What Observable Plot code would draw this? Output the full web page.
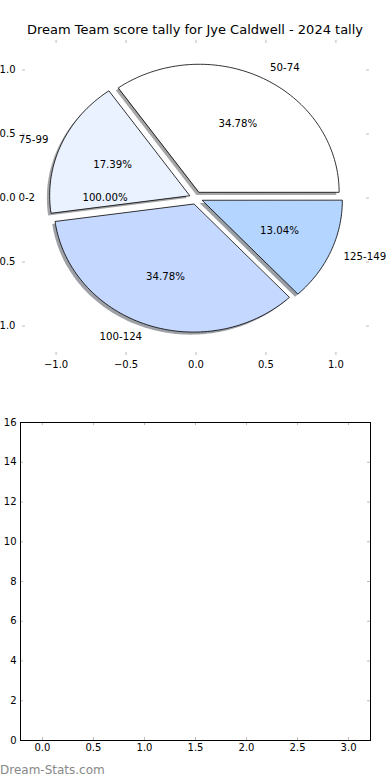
<!DOCTYPE html>
<html><head><meta charset="utf-8">
<script src="https://cdn.jsdelivr.net/npm/d3@7"></script>
<script src="https://cdn.jsdelivr.net/npm/@observablehq/plot@0.6"></script>
<style>
body{margin:0;background:#fff;font-family:"DejaVu Sans",sans-serif;}
#wrap{position:relative;width:390px;height:780px;overflow:hidden;background:#fff}
#title{position:absolute;top:22px;left:0;width:390px;text-align:center;font-size:13px;line-height:16px;color:#000}
#pie{position:absolute;top:0;left:0}
#bar{position:absolute;top:385px;left:0}
#footer{position:absolute;left:0;top:762px;font-size:12px;line-height:16px;color:#888}
</style></head><body>
<div id="wrap"><div id="pie"></div><div id="bar"></div>
<div id="title">Dream Team score tally for Jye Caldwell - 2024 tally</div>
<div id="footer">Dream-Stats.com</div></div>
<script>
// ---- data ----
const labels = ["50-74", "75-99", "0-2", "100-124", "125-149"];
const counts = [8, 4, 0, 8, 3];
const pctLabels = ["34.78%", "17.39%", "100.00%", "34.78%", "13.04%"];
const colors = ["#ffffff", "#eaf1ff", "#dfe9ff", "#c5d8ff", "#b3d5ff"];
const zeroLabelAngle = 180;
const pieTicks = [-1, -0.5, 0, 0.5, 1];
const barXTicks = [0, 0.5, 1, 1.5, 2, 2.5, 3];
const barYTicks = [0, 2, 4, 6, 8, 10, 12, 14, 16];

const explode = 0.05, labelDist = 1.1, pctDist = 0.6, shadowOff = -0.02;
const rad = Math.PI / 180;
const total = d3.sum(counts);
let acc = 0;
const slices = labels.map((lab, i) => {
  const span = counts[i] / total * 360;
  const t1 = acc, t2 = acc + span; acc = t2;
  const mid = counts[i] === 0 ? zeroLabelAngle : (t1 + t2) / 2;
  const ox = explode * Math.cos(mid * rad), oy = explode * Math.sin(mid * rad);
  const pts = [{x: ox, y: oy}];
  const n = Math.max(2, Math.ceil(span / 1.5));
  for (let k = 0; k <= n; k++) {
    const a = (t1 + (t2 - t1) * k / n) * rad;
    pts.push({x: ox + Math.cos(a), y: oy + Math.sin(a)});
  }
  const lx = ox + labelDist * Math.cos(mid * rad), ly = oy + labelDist * Math.sin(mid * rad);
  const px = ox + pctDist * Math.cos(mid * rad), py = oy + pctDist * Math.sin(mid * rad);
  const c = d3.rgb(colors[i]);
  const shadowColor = d3.rgb(c.r * 0.3, c.g * 0.3, c.b * 0.3).formatHex();
  return {label: lab, count: counts[i], pct: pctLabels[i], color: colors[i], shadowColor, pts,
          shadowPts: pts.map(p => ({x: p.x + shadowOff, y: p.y + shadowOff})),
          lx, ly, px, py};
});
const drawn = slices.filter(s => s.count > 0);

const pieH = 385, pieMT = 40, pieMB = 30;
const pieFrameH = pieH - pieMT - pieMB;
const pieW = 390, pieML = 22, pieMR = 21;
const pieFrameW = pieW - pieML - pieMR;
const tickGrey = "#bbb";
const lblSize = 10.2;

const pie = Plot.plot({
  width: pieW, height: pieH,
  marginTop: pieMT, marginBottom: pieMB, marginLeft: pieML, marginRight: pieMR,
  x: {domain: [-1.24, 1.24]},
  y: {domain: [-1.23, 1.23]},
  style: {fontFamily: "DejaVu Sans", fontSize: "10px", color: "#000", background: "transparent"},
  marks: [
    ...drawn.map(s => Plot.line(s.shadowPts, {x: "x", y: "y", fill: s.shadowColor, fillOpacity: 0.5, stroke: "none", curve: "linear-closed"})),
    ...drawn.map(s => Plot.line(s.pts, {x: "x", y: "y", fill: s.color, stroke: "#000", strokeWidth: 0.8, curve: "linear-closed"})),
    Plot.text(slices.filter(s => s.lx > 0), {x: "lx", y: "ly", text: "label", textAnchor: "start", fill: "#000", fontSize: lblSize}),
    Plot.text(slices.filter(s => s.lx <= 0), {x: "lx", y: "ly", text: "label", textAnchor: "end", fill: "#000", fontSize: lblSize}),
    Plot.text(slices, {x: "px", y: "py", text: "pct", fill: "#000", fontSize: lblSize}),
    // tick marks (inward) on all four sides
    Plot.tickX(pieTicks, {x: d => d, insetTop: pieFrameH - 3, stroke: tickGrey}),
    Plot.tickX(pieTicks, {x: d => d, insetBottom: pieFrameH - 3, stroke: tickGrey}),
    Plot.tickY(pieTicks, {y: d => d, insetRight: pieFrameW - 3, stroke: tickGrey}),
    Plot.tickY(pieTicks, {y: d => d, insetLeft: pieFrameW - 3, stroke: tickGrey}),
    Plot.axisX(pieTicks, {anchor: "bottom", tickSize: 0, tickPadding: 5, tickFormat: d3.format(".1f"), label: null, fill: "#000"}),
    Plot.axisY(pieTicks, {anchor: "left", tickSize: 0, tickPadding: 7, tickFormat: d3.format(".1f"), label: null, fill: "#000"})
  ]
});
document.getElementById("pie").appendChild(pie);

const barH = 395, barMT = 37, barMB = 40, barML = 20, barMR = 20, barW = 390;
const barFrameH = barH - barMT - barMB, barFrameW = barW - barML - barMR;
const bar = Plot.plot({
  width: barW, height: barH,
  marginTop: barMT, marginBottom: barMB, marginLeft: barML, marginRight: barMR,
  x: {domain: [-0.215, 3.215]},
  y: {domain: [0, 16]},
  style: {fontFamily: "DejaVu Sans", fontSize: "10px", color: "#000", background: "transparent"},
  marks: [
    Plot.tickX(barXTicks, {x: d => d, insetTop: barFrameH - 3, stroke: tickGrey}),
    Plot.tickX(barXTicks, {x: d => d, insetBottom: barFrameH - 3, stroke: tickGrey}),
    Plot.tickY(barYTicks, {y: d => d, insetRight: barFrameW - 3, stroke: tickGrey}),
    Plot.tickY(barYTicks, {y: d => d, insetLeft: barFrameW - 3, stroke: tickGrey}),
    Plot.frame({stroke: "#000", strokeWidth: 1}),
    Plot.axisX(barXTicks, {anchor: "bottom", tickSize: 0, tickPadding: 3, tickFormat: d3.format(".1f"), label: null, fill: "#000"}),
    Plot.axisY(barYTicks, {anchor: "left", tickSize: 0, tickPadding: 4, tickFormat: d3.format("d"), label: null, fill: "#000"})
  ]
});
document.getElementById("bar").appendChild(bar);
</script>
</body></html>
